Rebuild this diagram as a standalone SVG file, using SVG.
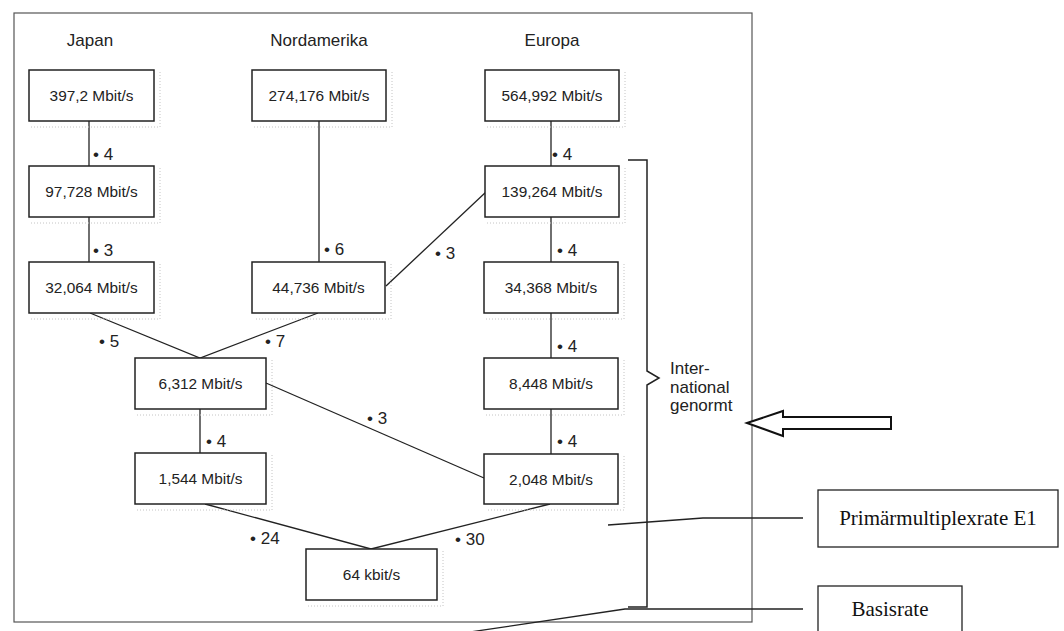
<svg xmlns="http://www.w3.org/2000/svg" width="1064" height="631" viewBox="0 0 1064 631">
<style>
.frame{fill:none;stroke:#555;stroke-width:1.2}
.box rect{fill:#fff;stroke:#222;stroke-width:1.5}
.shadow{fill:none;stroke:#c4c4c4;stroke-width:1;stroke-dasharray:1 2}
.box text{font-family:"Liberation Sans",Arial,sans-serif;font-size:15.4px;fill:#222;text-anchor:middle}
.hdr{font-family:"Liberation Sans",Arial,sans-serif;font-size:17px;fill:#222;text-anchor:middle}
.lbl{font-family:"Liberation Sans",Arial,sans-serif;font-size:17px;fill:#222}
.conn line,.conn path{fill:none;stroke:#222;stroke-width:1.3}
.brace{fill:none;stroke:#222;stroke-width:1.5}
.call rect{fill:#fff;stroke:#222;stroke-width:1.3}
.call text{font-family:"Liberation Serif","Times New Roman",serif;font-size:21px;fill:#111;text-anchor:middle}
.arrow{fill:#fff;stroke:#111;stroke-width:2}
</style>

<rect class="frame" x="14" y="13" width="738" height="609"/>

<g id="headers">
<text class="hdr" x="90" y="46">Japan</text>
<text class="hdr" x="319" y="46">Nordamerika</text>
<text class="hdr" x="552" y="46">Europa</text>
</g>

<g id="connectors" class="conn">
<line x1="89" y1="121" x2="89" y2="166"/>
<line x1="89" y1="217" x2="89" y2="262"/>
<line x1="319" y1="121" x2="319" y2="262"/>
<line x1="551" y1="121" x2="551" y2="166"/>
<line x1="551" y1="217" x2="551" y2="262"/>
<line x1="551" y1="313" x2="551" y2="358"/>
<line x1="551" y1="409" x2="551" y2="454"/>
<line x1="486" y1="192" x2="386" y2="286"/>
<path d="M90,313 L200,358 L318,313"/>
<line x1="200" y1="409" x2="200" y2="453"/>
<line x1="266" y1="383" x2="484" y2="478"/>
<path d="M205,504 L371,549 L550,504"/>
</g>

<g id="labels">
<text class="lbl" x="93" y="160">• 4</text>
<text class="lbl" x="93" y="256">• 3</text>
<text class="lbl" x="324" y="255">• 6</text>
<text class="lbl" x="435" y="259">• 3</text>
<text class="lbl" x="552" y="160">• 4</text>
<text class="lbl" x="557" y="256">• 4</text>
<text class="lbl" x="557" y="352">• 4</text>
<text class="lbl" x="557" y="447">• 4</text>
<text class="lbl" x="99" y="347">• 5</text>
<text class="lbl" x="265" y="347">• 7</text>
<text class="lbl" x="367" y="424">• 3</text>
<text class="lbl" x="206" y="447">• 4</text>
<text class="lbl" x="250" y="544">• 24</text>
<text class="lbl" x="455" y="545">• 30</text>
</g>

<g id="n397" class="box"><path class="shadow" d="M160,72 V127 H31"/><rect x="29" y="70" width="125" height="51"/><text x="91.5" y="101">397,2 Mbit/s</text></g>
<g id="n97728" class="box"><path class="shadow" d="M160,168 V223 H31"/><rect x="29" y="166" width="125" height="51"/><text x="91.5" y="197">97,728 Mbit/s</text></g>
<g id="n32064" class="box"><path class="shadow" d="M160,264 V319 H31"/><rect x="29" y="262" width="125" height="51"/><text x="91.5" y="293">32,064 Mbit/s</text></g>
<g id="n274176" class="box"><path class="shadow" d="M392,72 V127 H254"/><rect x="252" y="70" width="134" height="51"/><text x="319" y="101">274,176 Mbit/s</text></g>
<g id="n44736" class="box"><path class="shadow" d="M391,264 V319 H254"/><rect x="252" y="262" width="133" height="51"/><text x="318.5" y="293">44,736 Mbit/s</text></g>
<g id="n564992" class="box"><path class="shadow" d="M625,72 V127 H487"/><rect x="485" y="70" width="134" height="51"/><text x="552" y="101">564,992 Mbit/s</text></g>
<g id="n139264" class="box"><path class="shadow" d="M625,168 V223 H487"/><rect x="485" y="166" width="134" height="51"/><text x="552" y="197">139,264 Mbit/s</text></g>
<g id="n34368" class="box"><path class="shadow" d="M624,264 V319 H486"/><rect x="484" y="262" width="134" height="51"/><text x="551" y="293">34,368 Mbit/s</text></g>
<g id="n8448" class="box"><path class="shadow" d="M624,360 V415 H486"/><rect x="484" y="358" width="134" height="51"/><text x="551" y="389">8,448 Mbit/s</text></g>
<g id="n2048" class="box"><path class="shadow" d="M624,456 V510 H486"/><rect x="484" y="454" width="134" height="50"/><text x="551" y="484.5">2,048 Mbit/s</text></g>
<g id="n6312" class="box"><path class="shadow" d="M272,360 V415 H137"/><rect x="135" y="358" width="131" height="51"/><text x="200.5" y="389">6,312 Mbit/s</text></g>
<g id="n1544" class="box"><path class="shadow" d="M272,455 V510 H137"/><rect x="135" y="453" width="131" height="51"/><text x="200.5" y="484">1,544 Mbit/s</text></g>
<g id="n64" class="box"><path class="shadow" d="M443,551 V606 H308"/><rect x="306" y="549" width="131" height="51"/><text x="371.5" y="580">64 kbit/s</text></g>

<g id="brace">
<path class="brace" d="M628,160 H647 V371 L659,378 L647,385 V607 H628"/>
<text class="lbl" x="670" y="374">Inter-</text>
<text class="lbl" x="670" y="393">national</text>
<text class="lbl" x="670" y="411">genormt</text>
</g>

<g id="hollow-arrow">
<polygon class="arrow" points="747,423 783,411 783,417 891,417 891,429 783,429 783,436"/>
</g>

<g id="callout-lines" class="conn">
<path d="M608,525 L703,518 H803"/>
<path d="M470,632 L625,609 H803"/>
</g>

<g id="primaer" class="call">
<rect x="818" y="490" width="240" height="57"/>
<text x="938" y="525">Primärmultiplexrate E1</text>
</g>
<g id="basisrate" class="call">
<rect x="818" y="586" width="144" height="60"/>
<text x="890" y="616">Basisrate</text>
</g>
</svg>
